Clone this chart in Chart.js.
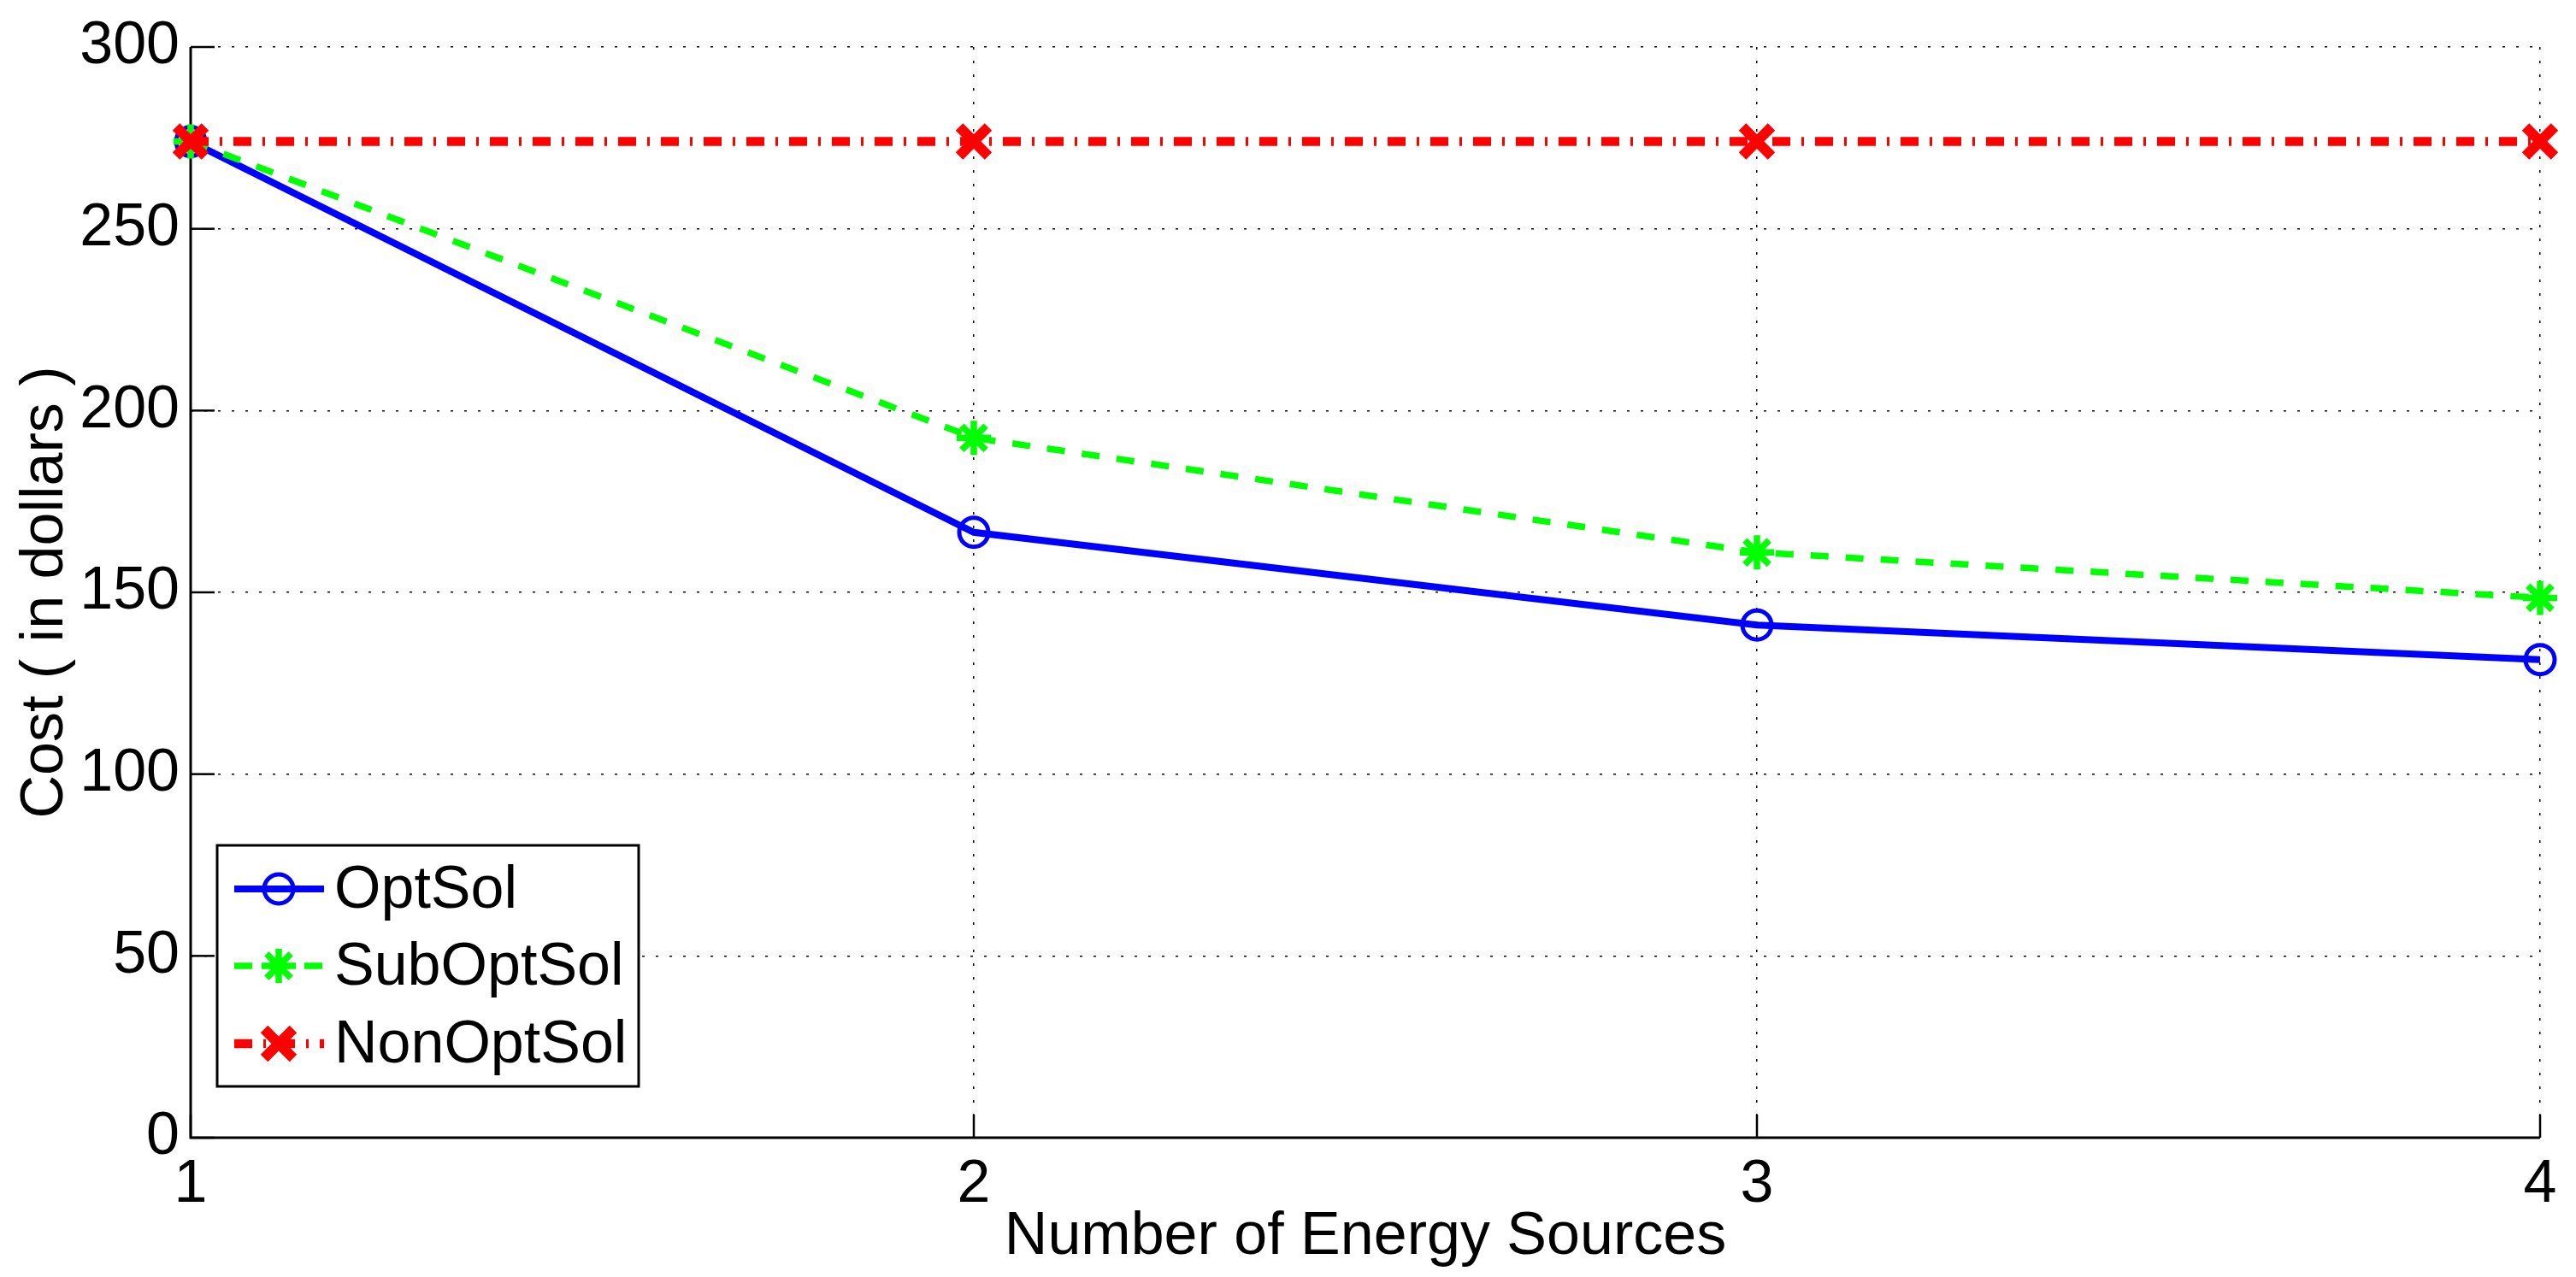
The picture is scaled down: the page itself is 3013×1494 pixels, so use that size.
<!DOCTYPE html>
<html>
<head>
<meta charset="utf-8">
<script src="https://cdn.jsdelivr.net/npm/chart.js@4.4.1/dist/chart.umd.min.js"></script>
<style>
    html, body { margin: 0; padding: 0; background: #ffffff; }
    #wrap { width: 3013px; height: 1494px; }
</style>
</head>
<body>
<div id="wrap"><canvas id="cost-chart" width="3013" height="1494"></canvas></div>
<script>
const sources = [1, 2, 3, 4];
const optSol = [274, 166.5, 141, 131.5];
const subOptSol = [274, 192.5, 161, 148.5];
const nonOptSol = [274, 274, 274, 274];
const yTicks = [0, 50, 100, 150, 200, 250, 300];

const colors = {
    blue: "#0000ff",
    green: "#00ff00",
    red: "#ff0000",
    black: "#000000",
};
const fontFamily = "'Liberation Sans', Arial, Helvetica, sans-serif";

function toPoints(values) {
    return sources.map((x, i) => ({ x: x, y: values[i] }));
}

// MATLAB style axes: solid left/bottom lines with inward ticks
const matlabAxes = {
    id: "matlabAxes",
    beforeDatasetsDraw(chart) {
	const { ctx, chartArea, scales } = chart;
	ctx.save();
	ctx.strokeStyle = colors.black;
	ctx.setLineDash([]);
	ctx.lineWidth = 2.5;
	yTicks.forEach(v => {
	    const y = scales.y.getPixelForValue(v);
	    ctx.beginPath();
	    ctx.moveTo(chartArea.left, y);
	    ctx.lineTo(chartArea.left + 28, y);
	    ctx.stroke();
	});
	sources.forEach(v => {
	    const x = scales.x.getPixelForValue(v);
	    ctx.beginPath();
	    ctx.moveTo(x, chartArea.bottom);
	    ctx.lineTo(x, chartArea.bottom - 27);
	    ctx.stroke();
	});
	ctx.lineWidth = 3;
	ctx.beginPath();
	ctx.moveTo(chartArea.left, chartArea.top);
	ctx.lineTo(chartArea.left, chartArea.bottom);
	ctx.lineTo(chartArea.right, chartArea.bottom);
	ctx.stroke();
	ctx.restore();
    }
};

// legend box in the lower left, drawn from the datasets' own styles
const boxLegend = {
    id: "boxLegend",
    afterDraw(chart) {
	const { ctx } = chart;
	const box = { left: 254, top: 989, right: 747, bottom: 1271 };
	const rows = [1040, 1130, 1221];
	ctx.save();
	ctx.fillStyle = "#ffffff";
	ctx.fillRect(box.left, box.top, box.right - box.left, box.bottom - box.top);
	ctx.strokeStyle = colors.black;
	ctx.lineWidth = 3;
	ctx.setLineDash([]);
	ctx.strokeRect(box.left, box.top, box.right - box.left, box.bottom - box.top);

	chart.data.datasets.forEach((ds, i) => {
	    const y = rows[i];
	    ctx.save();
	    ctx.strokeStyle = ds.borderColor;
	    ctx.lineWidth = ds.borderWidth;
	    ctx.setLineDash(ds.borderDash || []);
	    ctx.beginPath();
	    ctx.moveTo(274, y);
	    ctx.lineTo(379, y);
	    ctx.stroke();
	    ctx.setLineDash([]);
	    ctx.lineWidth = ds.pointBorderWidth;
	    ctx.strokeStyle = ds.pointBorderColor;
	    ctx.fillStyle = ds.pointBackgroundColor;
	    Chart.helpers.drawPoint(ctx, {
		pointStyle: ds.pointStyle,
		radius: ds.pointRadius,
		rotation: 0,
		borderWidth: ds.pointBorderWidth,
	    }, 326, y);
	    ctx.restore();

	    ctx.fillStyle = colors.black;
	    ctx.font = "70px " + fontFamily;
	    ctx.textAlign = "left";
	    ctx.textBaseline = "middle";
	    ctx.fillText(ds.label, 391, y + 3);
	});
	ctx.restore();
    }
};

const canvas = document.getElementById("cost-chart");

const chart = new Chart(canvas, {
    type: "line",
    data: {
	datasets: [
	    {
		label: "OptSol",
		data: toPoints(optSol),
		borderColor: colors.blue,
		borderWidth: 8,
		pointStyle: "circle",
		pointRadius: 17,
		pointBorderWidth: 5,
		pointBorderColor: colors.blue,
		pointBackgroundColor: "rgba(0,0,0,0)",
		order: 3,
	    },
	    {
		label: "SubOptSol",
		data: toPoints(subOptSol),
		borderColor: colors.green,
		borderWidth: 7.5,
		borderDash: [21, 20],
		pointStyle: "star",
		pointRadius: 20,
		pointBorderWidth: 7.5,
		pointBorderColor: colors.green,
		pointBackgroundColor: colors.green,
		order: 2,
	    },
	    {
		label: "NonOptSol",
		data: toPoints(nonOptSol),
		borderColor: colors.red,
		borderWidth: 10.5,
		borderDash: [21, 13, 3, 13],
		pointStyle: "crossRot",
		pointRadius: 24,
		pointBorderWidth: 12,
		pointBorderColor: colors.red,
		pointBackgroundColor: colors.red,
		order: 1,
	    },
	],
    },
    options: {
	responsive: false,
	animation: false,
	devicePixelRatio: 1,
	layout: { padding: { top: 53, right: 42, left: 0, bottom: 0 } },
	elements: { line: { tension: 0, fill: false, borderJoinStyle: "miter" } },
	datasets: { line: { clip: false } },
	plugins: {
	    legend: { display: false },
	    tooltip: { enabled: false },
	},
	scales: {
	    x: {
		type: "linear",
		min: 1,
		max: 4,
		afterFit: (scale) => { scale.height = 163; },
		afterBuildTicks: (scale) => { scale.ticks = sources.map(v => ({ value: v })); },
		grid: { color: colors.black, lineWidth: 1.5, drawTicks: false },
		border: { display: false, dash: [3, 13] },
		ticks: {
		    color: colors.black,
		    padding: 14,
		    font: { family: fontFamily, size: 70 },
		},
		title: {
		    display: true,
		    text: "Number of Energy Sources",
		    color: colors.black,
		    font: { family: fontFamily, size: 70 },
		    padding: { top: 0, bottom: 4 },
		},
	    },
	    y: {
		min: 0,
		max: 300,
		afterFit: (scale) => { scale.width = 223; },
		afterBuildTicks: (scale) => { scale.ticks = yTicks.map(v => ({ value: v })); },
		grid: { color: colors.black, lineWidth: 1.5, drawTicks: false },
		border: { display: false, dash: [3, 13] },
		ticks: {
		    color: colors.black,
		    padding: 13,
		    font: { family: fontFamily, size: 70 },
		},
		title: {
		    display: true,
		    text: "Cost ( in dollars )",
		    color: colors.black,
		    font: { family: fontFamily, size: 70 },
		    padding: { top: 12, bottom: 0 },
		},
	    },
	},
    },
    plugins: [matlabAxes, boxLegend],
});
</script>
</body>
</html>
